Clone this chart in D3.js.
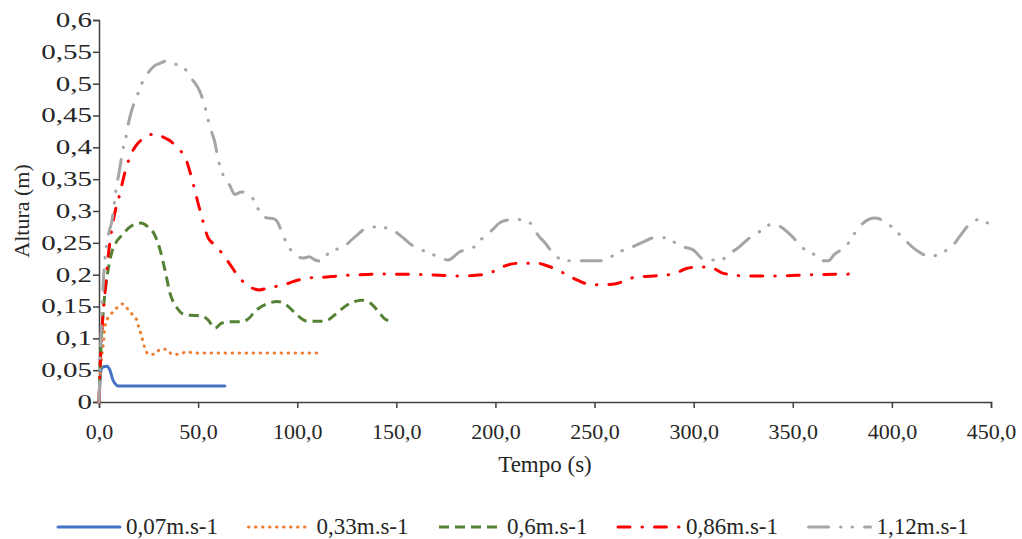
<!DOCTYPE html>
<html>
<head>
<meta charset="utf-8">
<script src="https://cdn.jsdelivr.net/npm/d3@7"></script>
<style>
  body { margin: 0; background: #fff; }
  text { font-family: "Liberation Serif", "Times New Roman", serif; fill: #262626; }
</style>
</head>
<body>
<div id="chart"></div>
<script>
// values
var xTicks = [0, 50, 100, 150, 200, 250, 300, 350, 400, 450];
var xTickLabels = ["0,0", "50,0", "100,0", "150,0", "200,0", "250,0", "300,0", "350,0", "400,0", "450,0"];
var yTicks = [0, 0.05, 0.1, 0.15, 0.2, 0.25, 0.3, 0.35, 0.4, 0.45, 0.5, 0.55, 0.6];
var yTickLabels = ["0", "0,05", "0,1", "0,15", "0,2", "0,25", "0,3", "0,35", "0,4", "0,45", "0,5", "0,55", "0,6"];

var seriesNames = ["0,07m.s-1", "0,33m.s-1", "0,6m.s-1", "0,86m.s-1", "1,12m.s-1"];

var tempo07 = [0, 1, 2, 4, 5.5, 7, 9, 10, 63.5];
var altura07 = [0, 0.05, 0.055, 0.056, 0.05, 0.035, 0.026, 0.025, 0.025];

var tempo33 = [0, 0.8, 1.5, 2.4, 3, 4.5, 7, 12, 14.5, 17, 19, 20, 21, 22, 23, 25, 28, 31, 34, 37, 41, 44, 48, 111.5];
var altura33 = [0, 0.05, 0.075, 0.097, 0.118, 0.132, 0.141, 0.154, 0.146, 0.137, 0.129, 0.118, 0.108, 0.097, 0.086, 0.075, 0.075, 0.083, 0.083, 0.075, 0.075, 0.079, 0.077, 0.077];

var tempo06 = [0, 0.6, 1.2, 2.2, 4, 6, 8.5, 11.6, 15.6, 21, 24.7, 28, 30.8, 33.3, 35.8, 39.3, 43.4, 48, 52, 55, 58.5, 62, 67, 71, 74.6, 79.6, 85.4, 90, 94.7, 99.8, 105, 110, 114, 119, 125, 132.5, 137, 141, 144, 147];
var altura06 = [0, 0.06, 0.1, 0.145, 0.195, 0.23, 0.25, 0.262, 0.275, 0.281, 0.275, 0.263, 0.239, 0.207, 0.171, 0.148, 0.137, 0.136, 0.135, 0.129, 0.116, 0.124, 0.126, 0.126, 0.129, 0.145, 0.155, 0.158, 0.152, 0.137, 0.127, 0.127, 0.127, 0.137, 0.152, 0.16, 0.155, 0.142, 0.131, 0.127];

var tempo086 = [0, 0.5, 1.5, 3, 4.5, 6, 8, 10.6, 13, 15.6, 18.5, 22, 26, 29, 33, 36, 39, 44, 47.4, 50, 52.5, 55, 57.5, 62, 67, 69.6, 74.6, 81, 85, 93, 101, 106, 113, 121, 143, 163.5, 183.7, 193.7, 199, 202, 206, 212, 221, 226, 231.6, 239, 249, 259, 265, 269, 279.5, 289.6, 296.7, 301.7, 308, 315, 327, 340, 360, 383];
var altura086 = [0, 0.05, 0.113, 0.171, 0.225, 0.262, 0.297, 0.328, 0.36, 0.385, 0.402, 0.413, 0.42, 0.421, 0.415, 0.41, 0.401, 0.38, 0.344, 0.312, 0.283, 0.258, 0.249, 0.234, 0.212, 0.2, 0.184, 0.176, 0.179, 0.184, 0.192, 0.195, 0.196, 0.198, 0.201, 0.2, 0.198, 0.2, 0.205, 0.21, 0.215, 0.218, 0.218, 0.214, 0.207, 0.195, 0.184, 0.185, 0.19, 0.195, 0.198, 0.201, 0.21, 0.212, 0.212, 0.202, 0.198, 0.198, 0.2, 0.201];

var tempo112 = [0, 1, 2, 3, 4.5, 6.6, 8.6, 10.6, 12, 13.6, 15, 17, 19, 21.7, 25, 28, 30.8, 34.3, 38.3, 42.4, 47, 51, 53.5, 56, 58.5, 60, 62.6, 66, 68.5, 72, 77, 80, 82, 85, 88, 90, 92.8, 96, 99, 103, 106, 109, 112.5, 116.5, 123, 129, 135, 140, 146.8, 153, 158.5, 165, 170.5, 176, 182, 189, 193, 198, 203, 210, 217.5, 221.5, 225, 229, 235, 242.7, 255, 261, 268, 275, 280, 286, 293, 299.7, 305.7, 314, 317, 322.4, 327.5, 333.5, 340, 345, 350, 355, 361, 364, 368, 371, 377, 381, 385.5, 391.5, 396.6, 402.6, 407.7, 413, 420, 424, 430, 434.4, 439.4, 444.5, 448.5, 450];
var altura112 = [0, 0.1, 0.18, 0.225, 0.259, 0.286, 0.333, 0.369, 0.396, 0.416, 0.44, 0.463, 0.479, 0.501, 0.518, 0.528, 0.532, 0.536, 0.531, 0.526, 0.507, 0.487, 0.463, 0.432, 0.407, 0.383, 0.357, 0.34, 0.326, 0.33, 0.322, 0.305, 0.292, 0.289, 0.288, 0.283, 0.262, 0.242, 0.232, 0.226, 0.228, 0.223, 0.221, 0.237, 0.243, 0.259, 0.273, 0.275, 0.272, 0.259, 0.245, 0.236, 0.229, 0.223, 0.236, 0.243, 0.256, 0.269, 0.283, 0.287, 0.281, 0.262, 0.25, 0.234, 0.222, 0.222, 0.222, 0.234, 0.242, 0.252, 0.258, 0.258, 0.245, 0.239, 0.223, 0.223, 0.231, 0.242, 0.256, 0.268, 0.28, 0.273, 0.259, 0.242, 0.231, 0.222, 0.222, 0.232, 0.245, 0.264, 0.281, 0.289, 0.283, 0.267, 0.251, 0.237, 0.228, 0.234, 0.243, 0.261, 0.28, 0.287, 0.281, 0.28];

var tempos = [tempo07, tempo33, tempo06, tempo086, tempo112];
var alturas = [altura07, altura33, altura06, altura086, altura112];

// line styles
var colors = ["#4472C4", "#ED7D31", "#548235", "#FF0000", "#A5A5A5"];
var dashes = [null, "0.5,6.5", "10,6", "12,12,0.5,12", "20,12,0.5,11,0.5,12"];
var caps = ["round", "round", "butt", "round", "round"];

// set the dimensions and margins of the graph
var margin = {top: 20, right: 31, bottom: 137, left: 99},
    width = 1022 - margin.left - margin.right,
    height = 539 - margin.top - margin.bottom;

var root = d3.select("#chart")
  .append("svg")
    .attr("width", 1022)
    .attr("height", 539);

var svg = root.append("g")
    .attr("transform", "translate(" + margin.left + "," + margin.top + ")");

var x = d3.scaleLinear().domain([0, 450]).range([0, width]);
var y = d3.scaleLinear().domain([0, 0.6]).range([height, 0]);

// Y axis (labels are drawn wide in the original, so stretch them)
var yStretch = 1.45;
var yAxis = svg.append("g")
  .call(d3.axisLeft(y)
    .tickValues(yTicks)
    .tickSize(6)
    .tickFormat(function(d, i) { return yTickLabels[i]; }));
yAxis.selectAll("text")
    .attr("x", -7 / yStretch)
    .attr("transform", "scale(" + yStretch + ",1)")
    .style("font-size", "20px");

// X axis
var xAxis = svg.append("g")
  .attr("transform", "translate(0," + height + ")")
  .call(d3.axisBottom(x)
    .tickValues(xTicks)
    .tickSize(6)
    .tickPadding(15)
    .tickFormat(function(d, i) { return xTickLabels[i]; }));
xAxis.selectAll("text")
    .style("font-size", "22px");

svg.selectAll(".domain, .tick line")
    .attr("stroke", "#404040")
    .attr("stroke-width", 1.5);

// axis titles
svg.append("text")
    .attr("x", width / 2)
    .attr("y", height + 70)
    .attr("text-anchor", "middle")
    .style("font-size", "23px")
    .text("Tempo (s)");

svg.append("text")
    .attr("transform", "translate(" + (-70) + "," + (height / 2) + ") rotate(-90)")
    .attr("text-anchor", "middle")
    .style("font-size", "22px")
    .text("Altura (m)");

// lines
var line = d3.line()
  .x(function(d) { return x(d[0]); })
  .y(function(d) { return y(d[1]); })
  .curve(d3.curveMonotoneX);

seriesNames.forEach(function(name, i) {
  var pts = tempos[i].map(function(t, j) { return [t, alturas[i][j]]; });
  svg.append("path")
    .datum(pts)
    .attr("fill", "none")
    .attr("stroke", colors[i])
    .attr("stroke-width", 3)
    .attr("stroke-linecap", caps[i])
    .attr("stroke-linejoin", "round")
    .attr("stroke-dasharray", dashes[i])
    .attr("d", line);
});

// legend
var legend = root.append("g").attr("transform", "translate(0,527)");
var cursor = 58;
seriesNames.forEach(function(name, i) {
  legend.append("line")
    .attr("x1", cursor).attr("x2", cursor + 62)
    .attr("y1", 0).attr("y2", 0)
    .attr("stroke", colors[i])
    .attr("stroke-width", 3)
    .attr("stroke-linecap", caps[i])
    .attr("stroke-dasharray", dashes[i]);
  var t = legend.append("text")
    .attr("x", cursor + 68)
    .attr("dy", "0.32em")
    .style("font-size", "23px")
    .text(name);
  cursor = cursor + 68 + t.node().getComputedTextLength() + 30.5;
});
</script>
</body>
</html>
